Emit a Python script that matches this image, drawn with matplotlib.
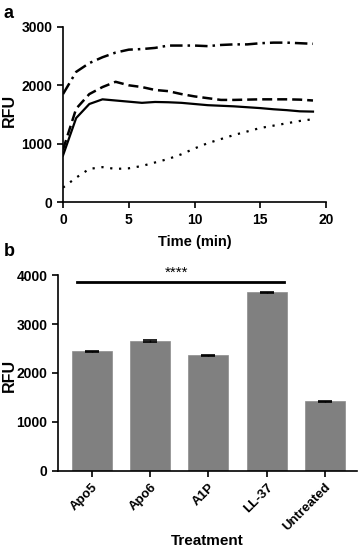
import numpy as np
import matplotlib.pyplot as plt

plt.rcParams['font.family'] = ['Liberation Sans', 'DejaVu Sans']
plt.rcParams['font.weight'] = 'bold'

# ---- panel a: time course ----
time_min = [0, 1, 2, 3, 4, 5, 6, 7, 8, 9, 10, 11, 12, 13, 14, 15, 16, 17, 18, 19]
rfu_solid = [800, 1440, 1680, 1760, 1740, 1720, 1700, 1715, 1710, 1700, 1680,
             1660, 1650, 1640, 1625, 1610, 1590, 1575, 1555, 1550]
rfu_dashed = [900, 1600, 1850, 1970, 2060, 2000, 1970, 1920, 1900, 1850, 1810,
              1780, 1750, 1750, 1755, 1760, 1760, 1760, 1755, 1740]
rfu_dashdot = [1850, 2230, 2380, 2480, 2560, 2610, 2620, 2640, 2680, 2680, 2680,
               2670, 2690, 2700, 2700, 2720, 2730, 2730, 2720, 2710]
rfu_dotted = [250, 420, 570, 600, 570, 580, 620, 680, 740, 820, 920,
              1010, 1080, 1150, 1210, 1270, 1310, 1350, 1390, 1420]

# ---- panel b: bars ----
treatments = ['Apo5', 'Apo6', 'A1P', 'LL-37', 'Untreated']
bar_rfu = [2440, 2650, 2360, 3650, 1425]
bar_err = [15, 20, 12, 12, 10]

fig = plt.figure(figsize=(3.58, 5.48), dpi=100)
H = 548.0
W = 358.0

ax1 = fig.add_axes([0.176, 0.631, 0.735, 0.32])
ax1.plot(time_min, rfu_solid, color='black', lw=1.6, ls='-')
ax1.plot(time_min, rfu_dashed, color='black', lw=1.8, ls=(0, (4, 2)))
ax1.plot(time_min, rfu_dashdot, color='black', lw=1.8, ls=(0, (5, 2, 1, 2)))
ax1.plot(time_min, rfu_dotted, color='black', lw=1.6, ls=(0, (1, 3)))
ax1.set_xlim(0, 20)
ax1.set_ylim(0, 3000)
ax1.set_xticks([0, 5, 10, 15, 20])
ax1.set_yticks([0, 1000, 2000, 3000])
ax1.set_xlabel('Time (min)', fontsize=10.5, fontweight='bold', labelpad=6)

ax2 = fig.add_axes([0.162, 0.141, 0.835, 0.357])
x = np.arange(len(treatments))
ax2.bar(x, bar_rfu, width=0.69, color='#808080', edgecolor='#8c8c8c', lw=0.5)
ax2.errorbar(x, bar_rfu, yerr=bar_err, fmt='none', ecolor='black',
             elinewidth=1, capsize=5, capthick=1.2)
ax2.plot([-0.25, 3.3], [3860, 3860], color='black', lw=2)
ax2.text(1.45, 3900, '****', ha='center', va='bottom', fontsize=11,
         fontweight='normal')
ax2.set_xlim(-0.58, 4.55)
ax2.set_ylim(0, 4000)
ax2.set_yticks([0, 1000, 2000, 3000, 4000])
ax2.set_xticks(x)
ax2.set_xticklabels(treatments, rotation=45, ha='right', rotation_mode='anchor')

for ax in (ax1, ax2):
    ax.spines['top'].set_visible(False)
    ax.spines['right'].set_visible(False)
    ax.spines['left'].set_linewidth(1.2)
    ax.spines['bottom'].set_linewidth(1.2)
    ax.tick_params(direction='out', length=4, width=1.2, labelsize=10)
    for lab in ax.get_xticklabels() + ax.get_yticklabels():
        lab.set_fontweight('bold')
ax2.tick_params(axis='x', labelsize=9.5)

# axis labels placed by hand, like the reference
fig.text(9 / W, 1 - 110 / H, 'RFU', rotation=90, ha='center', va='center',
         fontsize=11.5, fontweight='bold')
fig.text(9 / W, 1 - 375 / H, 'RFU', rotation=90, ha='center', va='center',
         fontsize=11.5, fontweight='bold')
fig.text(0.58, 1 - 541 / H, 'Treatment', ha='center', va='center',
         fontsize=11, fontweight='bold')

fig.text(0.01, 0.99, 'a', fontsize=13, fontweight='bold', va='top')
fig.text(0.012, 0.557, 'b', fontsize=13, fontweight='bold', va='top')

fig.savefig('out.png', dpi=100)
